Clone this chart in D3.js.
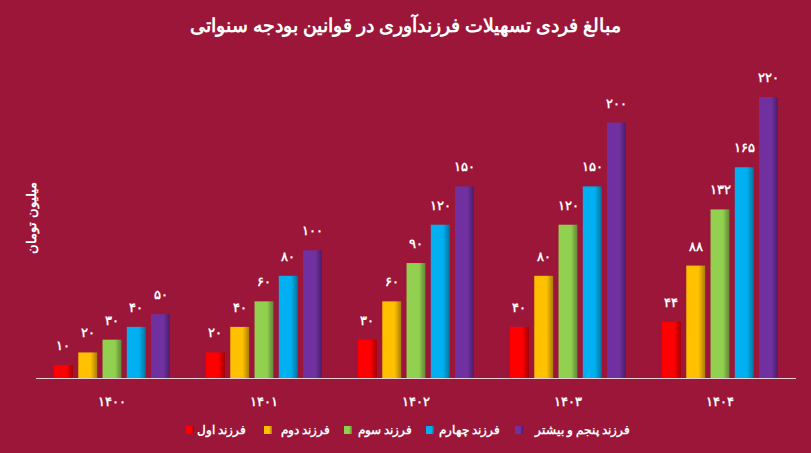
<!DOCTYPE html>
<html><head><meta charset="utf-8">
<script src="https://cdn.jsdelivr.net/npm/d3@7"></script>
<style>body{margin:0;background:#9c1639;}text{font-family:"Noto Sans",sans-serif;fill:#fff;}</style>
</head><body>
<script>
var years = ['۱۴۰۰', '۱۴۰۱', '۱۴۰۲', '۱۴۰۳', '۱۴۰۴'];
var seriesNames = ['فرزند اول', 'فرزند دوم', 'فرزند سوم', 'فرزند چهارم', 'فرزند پنجم و بیشتر'];
var colors = ['#ff0000', '#ffc000', '#92d050', '#00b0f0', '#7030a0'];
var values = [
  [10, 20, 30, 40, 50],
  [20, 40, 60, 80, 100],
  [30, 60, 90, 120, 150],
  [40, 80, 120, 150, 200],
  [44, 88, 132, 165, 220]
];
var labels = [
  ['۱۰', '۲۰', '۳۰', '۴۰', '۵۰'],
  ['۲۰', '۴۰', '۶۰', '۸۰', '۱۰۰'],
  ['۳۰', '۶۰', '۹۰', '۱۲۰', '۱۵۰'],
  ['۴۰', '۸۰', '۱۲۰', '۱۵۰', '۲۰۰'],
  ['۴۴', '۸۸', '۱۳۲', '۱۶۵', '۲۲۰']
];

var W = 811, H = 453;
var svg = d3.select('body').append('svg').attr('width', W).attr('height', H)
  .style('background', '#9c1639');

var defs = svg.append('defs');
colors.forEach(function (c, i) {
  var g = defs.append('linearGradient').attr('id', 'g' + i);
  g.append('stop').attr('offset', '0%').attr('stop-color', c);
  g.append('stop').attr('offset', '65%').attr('stop-color', c);
  g.append('stop').attr('offset', '100%').attr('stop-color', d3.color(c).darker(1.2));
});

svg.append('text').attr('x', W / 2).attr('y', 32).attr('text-anchor', 'middle')
  .style('font-size', '19px').style('font-weight', 'bold').text('مبالغ فردی تسهیلات فرزندآوری در قوانین بودجه سنواتی');

var x0 = d3.scaleBand().domain(d3.range(years.length)).range([36, 796]);
var x1 = d3.scaleBand().domain(d3.range(seriesNames.length)).range([0, 116]).paddingInner(0.22);
var y = d3.scaleLinear().domain([0, 220]).range([378, 97]);

var groups = svg.selectAll('g.grp').data(values).enter().append('g')
  .attr('transform', function (d, i) { return 'translate(' + (x0(i) + (x0.bandwidth() - 116) / 2) + ',0)'; });

groups.each(function (row, gi) {
  var g = d3.select(this);
  g.selectAll('rect').data(row).enter().append('rect')
    .attr('x', function (d, i) { return x1(i); })
    .attr('y', function (d) { return y(d); })
    .attr('width', x1.bandwidth())
    .attr('height', function (d) { return y(0) - y(d); })
    .attr('fill', function (d, i) { return 'url(#g' + i + ')'; });
  g.selectAll('text').data(row).enter().append('text')
    .attr('x', function (d, i) { return x1(i) + x1.bandwidth() / 2; })
    .attr('y', function (d) { return y(d) - 15; })
    .attr('text-anchor', 'middle').style('font-size', '13px').style('font-weight', 'bold')
    .text(function (d, i) { return labels[gi][i]; });
});

svg.append('line').attr('x1', 36).attr('x2', 796).attr('y1', 378.5).attr('y2', 378.5)
  .attr('stroke', '#e8d0d6').attr('stroke-width', 1);

var xAxis = svg.append('g').attr('transform', 'translate(0,378)')
  .call(d3.axisBottom(x0).tickSize(0).tickFormat(function (i) { return years[i]; }));
xAxis.select('.domain').remove();
xAxis.selectAll('text').attr('dy', '1.9em').style('font-size', '13px').style('font-weight', 'bold').style('fill', '#fff');

svg.append('text').attr('transform', 'translate(36,218) rotate(-90)').attr('text-anchor', 'middle')
  .style('font-size', '13px').style('font-weight', 'bold').text('میلیون تومان');

var legX = [186, 264, 344, 426, 515];
var legW = [60, 66, 68, 74, 115];
seriesNames.forEach(function (n, i) {
  svg.append('rect').attr('x', legX[i]).attr('y', 426).attr('width', 8).attr('height', 8).attr('fill', 'url(#g' + i + ')');
  svg.append('text').attr('x', legX[i] + 12 + legW[i] - 12).attr('y', 434).attr('text-anchor', 'end')
    .style('font-size', '12px').style('font-weight', 'bold').text(n);
});
</script>
</body></html>
